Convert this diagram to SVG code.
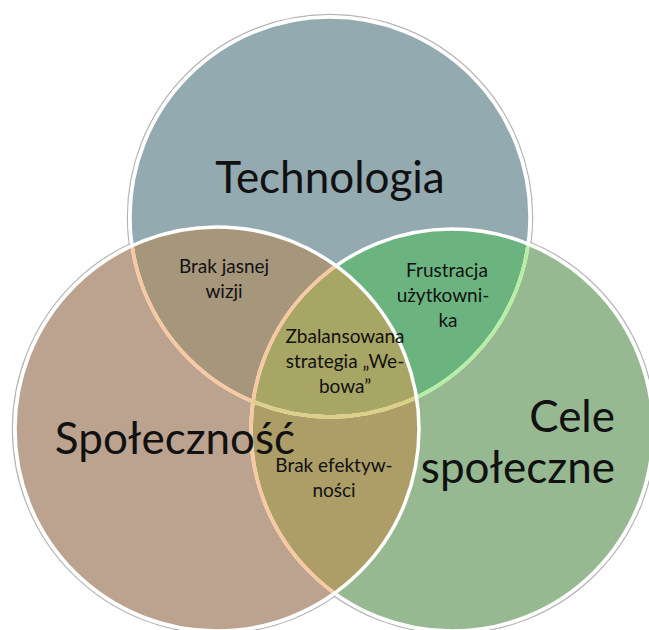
<svg xmlns="http://www.w3.org/2000/svg" width="649" height="630" viewBox="0 0 649 630">
  <defs>
    <clipPath id="clipTop"><circle cx="330" cy="217" r="200"/></clipPath>
    <clipPath id="clipLeft"><circle cx="217" cy="429" r="202"/></clipPath>
    <clipPath id="clipRight"><circle cx="452" cy="430" r="201"/></clipPath>
    <style>
      .halo { fill: none; stroke: #b4b4b4; stroke-width: 1.2; }
      .edge { fill: none; stroke-width: 3.5; }
      .big { font-family: Lato, "Open Sans", sans-serif; font-size: 44px; fill: #111; }
      .small { font-family: Lato, "Open Sans", sans-serif; font-size: 19px; fill: #111; text-anchor: middle; }
    </style>
  </defs>
  <rect width="649" height="630" fill="#ffffff"/>

  <!-- soft grey rims outside each circle -->
  <g id="rims">
    <circle class="halo" cx="330" cy="217" r="202.6"/>
    <circle class="halo" cx="217" cy="429" r="204.6"/>
    <circle class="halo" cx="452" cy="430" r="203.6"/>
  </g>

  <!-- circle fills -->
  <g id="technologia">
    <circle cx="330" cy="217" r="200" fill="#92aab0"/>
  </g>
  <g id="cele-spoleczne">
    <circle cx="452" cy="430" r="201" fill="#97b992"/>
  </g>
  <g id="spolecznosc">
    <circle cx="217" cy="429" r="202" fill="#bca390"/>
  </g>

  <!-- overlap regions -->
  <g id="overlap-tech-cele">
    <circle cx="452" cy="430" r="201" fill="#6cb47f" clip-path="url(#clipTop)"/>
  </g>
  <g id="overlap-tech-spol">
    <circle cx="217" cy="429" r="202" fill="#a6967c" clip-path="url(#clipTop)"/>
  </g>
  <g id="overlap-spol-cele">
    <circle cx="217" cy="429" r="202" fill="#ad9e68" clip-path="url(#clipRight)"/>
  </g>
  <g id="overlap-center" clip-path="url(#clipTop)">
    <circle cx="217" cy="429" r="202" fill="#a8a664" clip-path="url(#clipRight)"/>
  </g>

  <!-- circle outlines, tinted where seen through upper circles -->
  <g id="outlines">
    <circle class="edge" cx="330" cy="217" r="200" stroke="#ffffff"/>
    <circle class="edge" cx="330" cy="217" r="200" stroke="#b6eea6" clip-path="url(#clipRight)"/>
    <circle class="edge" cx="452" cy="430" r="201" stroke="#ffffff"/>
    <g clip-path="url(#clipLeft)">
      <circle class="edge" cx="330" cy="217" r="200" stroke="#f8c8a0"/>
      <circle class="edge" cx="452" cy="430" r="201" stroke="#f8c8a0"/>
    </g>
    <g clip-path="url(#clipLeft)">
      <circle class="edge" cx="330" cy="217" r="200" stroke="#dccf8a" clip-path="url(#clipRight)"/>
    </g>
    <circle class="edge" cx="217" cy="429" r="202" stroke="#ffffff"/>
  </g>

  <!-- labels -->
  <g id="labels">
    <text class="big" x="330" y="193" text-anchor="middle" font-size="47">Technologia</text>
    <text class="big" x="175" y="454" text-anchor="middle">Społeczność</text>
    <text class="big" x="615" y="432" text-anchor="end">Cele</text>
    <text class="big" x="615" y="483" text-anchor="end">społeczne</text>

    <text class="small" x="224" y="273">Brak jasnej</text>
    <text class="small" x="224" y="298">wizji</text>

    <text class="small" x="447" y="277">Frustracja</text>
    <text class="small" x="443" y="302">użytkowni-</text>
    <text class="small" x="448" y="327">ka</text>

    <text class="small" x="345" y="343">Zbalansowana</text>
    <text class="small" x="345" y="368">strategia „We-</text>
    <text class="small" x="345" y="393">bowa”</text>

    <text class="small" x="334" y="472">Brak efektyw-</text>
    <text class="small" x="334" y="497">ności</text>
  </g>
</svg>
